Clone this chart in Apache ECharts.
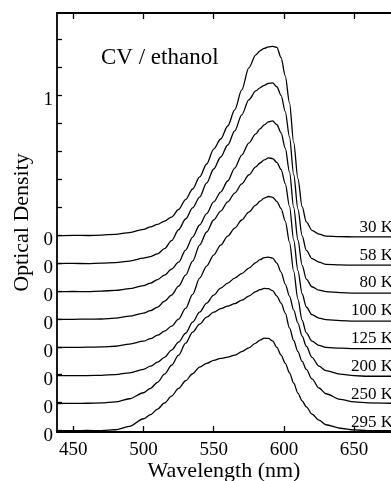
<!DOCTYPE html>
<html>
<head>
<meta charset="utf-8">
<script src="https://cdn.jsdelivr.net/npm/echarts@6/dist/echarts.min.js"></script>
<style>
  html, body { margin: 0; padding: 0; background: #fff; }
  #main { width: 391px; height: 481px; }
</style>
</head>
<body>
<div id="main"></div>
<script>
const font = 'Liberation Serif'

// wavelength grid (nm)
const wavelengths = [438.5, 450, 460, 470, 480, 490, 500, 505, 510, 515, 520, 525, 530, 535, 540, 545, 550, 555, 560, 565, 570, 575, 580, 583, 586, 589, 592, 595, 598, 601, 604, 607, 610, 613, 616, 620, 625, 630, 640, 650, 660, 676.3]

// optical density of each spectrum (before vertical offset)
const od30 = [-0.004, -0.002, -0.003, 0, 0.005, 0.018, 0.041, 0.059, 0.077, 0.100, 0.129, 0.183, 0.254, 0.330, 0.416, 0.509, 0.616, 0.688, 0.781, 0.896, 1.039, 1.197, 1.290, 1.319, 1.337, 1.348, 1.351, 1.344, 1.270, 1.140, 0.946, 0.662, 0.405, 0.203, 0.095, 0.034, 0.007, -0.008, -0.011, -0.013, -0.013, -0.013]
const od58 = [-0.004, -0.003, -0.004, -0.001, 0.003, 0.014, 0.035, 0.046, 0.066, 0.103, 0.160, 0.238, 0.315, 0.394, 0.472, 0.573, 0.673, 0.759, 0.845, 0.946, 1.060, 1.168, 1.232, 1.254, 1.272, 1.286, 1.290, 1.262, 1.200, 1.084, 0.903, 0.632, 0.387, 0.194, 0.090, 0.032, 0.006, -0.010, -0.014, -0.015, -0.015, -0.015]
const od80 = [-0.005, -0.004, -0.005, -0.001, 0.004, 0.016, 0.038, 0.056, 0.081, 0.113, 0.156, 0.206, 0.292, 0.386, 0.472, 0.554, 0.637, 0.708, 0.787, 0.880, 0.973, 1.059, 1.124, 1.160, 1.189, 1.210, 1.217, 1.190, 1.132, 1.022, 0.852, 0.596, 0.365, 0.183, 0.085, 0.030, 0.006, -0.005, -0.012, -0.016, -0.016, -0.016]
const od100 = [-0.004, -0.003, -0.002, -0.001, 0.005, 0.019, 0.041, 0.059, 0.084, 0.127, 0.170, 0.234, 0.313, 0.414, 0.528, 0.622, 0.708, 0.772, 0.837, 0.901, 0.966, 1.030, 1.088, 1.116, 1.138, 1.152, 1.148, 1.120, 1.070, 0.968, 0.806, 0.564, 0.346, 0.180, 0.085, 0.030, 0.006, -0.005, -0.012, -0.016, -0.016, -0.016]
const od125 = [-0.005, -0.004, -0.003, -0.001, 0.004, 0.019, 0.040, 0.058, 0.083, 0.112, 0.148, 0.198, 0.275, 0.375, 0.492, 0.578, 0.657, 0.728, 0.793, 0.850, 0.908, 0.965, 1.015, 1.043, 1.065, 1.076, 1.070, 1.040, 0.990, 0.900, 0.750, 0.540, 0.340, 0.190, 0.100, 0.040, 0.010, -0.004, -0.010, -0.013, -0.013, -0.013]
const od200 = [-0.007, -0.006, -0.006, -0.004, 0.001, 0.014, 0.039, 0.061, 0.090, 0.125, 0.176, 0.233, 0.297, 0.376, 0.448, 0.513, 0.570, 0.620, 0.656, 0.692, 0.724, 0.763, 0.803, 0.824, 0.839, 0.842, 0.835, 0.799, 0.735, 0.649, 0.563, 0.462, 0.369, 0.276, 0.204, 0.125, 0.061, 0.029, 0.004, -0.007, -0.011, -0.011]
const od250 = [-0.006, -0.005, -0.004, -0.002, 0.006, 0.028, 0.071, 0.103, 0.146, 0.204, 0.268, 0.340, 0.426, 0.505, 0.562, 0.612, 0.648, 0.673, 0.691, 0.709, 0.734, 0.763, 0.795, 0.809, 0.818, 0.816, 0.802, 0.763, 0.713, 0.641, 0.535, 0.445, 0.365, 0.295, 0.238, 0.170, 0.105, 0.064, 0.024, 0.006, -0.001, -0.004]
const od295 = [0, 0, 0.001, 0, 0.006, 0.030, 0.085, 0.114, 0.154, 0.198, 0.247, 0.302, 0.357, 0.407, 0.454, 0.482, 0.503, 0.517, 0.526, 0.540, 0.565, 0.593, 0.627, 0.648, 0.662, 0.660, 0.642, 0.596, 0.540, 0.482, 0.414, 0.340, 0.268, 0.213, 0.170, 0.118, 0.075, 0.042, 0.017, 0.005, 0, 0]

const temps = ['30 K', '58 K', '80 K', '100 K', '125 K', '200 K', '250 K', '295 K']
const spectra = [od30, od58, od80, od100, od125, od200, od250, od295]
const offsets = [1.4, 1.2, 1.0, 0.8, 0.6, 0.4, 0.2, 0]

const xTicks = [450, 500, 550, 600, 650]
const yTicks = [0, 0.2, 0.4, 0.6, 0.8, 1.0, 1.2, 1.4, 1.6, 1.8, 2.0, 2.2, 2.4, 2.6, 2.8]
const yLabels = [0, 0.2, 0.4, 0.6, 0.8, 1.0, 1.2, 1.4, 2.4]

const chart = echarts.init(document.getElementById('main'))

const series = spectra.map((od, k) => ({
  name: temps[k],
  type: 'line',
  showSymbol: false,
  smooth: 0.3,
  smoothMonotone: 'x',
  lineStyle: { color: '#000', width: 1.3 },
  data: wavelengths.map((w, i) => [w, od[i] + offsets[k]]),
  markPoint: {
    symbol: 'circle',
    symbolSize: 0,
    silent: true,
    data: [{ coord: [676.3, offsets[k] + 0.057] }],
    label: {
      show: true,
      formatter: temps[k],
      position: 'inside',
      align: 'right',
      offset: [2, 0],
      color: '#000',
      fontFamily: font,
      fontSize: 17,
    },
  },
}))

const axisStyle = { color: '#000', width: 1.8 }
const tickStyle = { color: '#000', width: 1.3 }

chart.setOption({
  animation: false,
  backgroundColor: '#fff',
  title: {
    text: 'CV / ethanol',
    left: 96,
    top: 41,
    textStyle: { fontFamily: font, fontSize: 23, fontWeight: 'normal', color: '#000' },
  },
  grid: { left: 57, right: 0, top: 13, bottom: 49, outerBoundsMode: 'none' },
  xAxis: [
    {
      type: 'value',
      position: 'bottom',
      min: 438.4,
      max: 676.3,
      name: 'Wavelength (nm)',
      nameLocation: 'middle',
      nameGap: 28,
      nameMoveOverlap: false,
      nameTextStyle: { fontFamily: font, fontSize: 22, color: '#000' },
      axisLine: { show: true, onZero: false, lineStyle: axisStyle },
      axisTick: { show: true, inside: true, length: 6, customValues: xTicks, lineStyle: tickStyle },
      axisLabel: { customValues: xTicks, fontFamily: font, fontSize: 19, color: '#000', margin: 9 },
      splitLine: { show: false },
    },
    {
      type: 'value',
      position: 'top',
      min: 438.4,
      max: 676.3,
      axisLine: { show: true, onZero: false, lineStyle: axisStyle },
      axisTick: { show: true, inside: true, length: 6, customValues: xTicks, lineStyle: tickStyle },
      axisLabel: { show: false },
      splitLine: { show: false },
    },
  ],
  yAxis: {
    type: 'value',
    min: -0.01,
    max: 2.99,
    name: 'Optical Density',
    nameLocation: 'middle',
    nameGap: 24,
    nameMoveOverlap: false,
    nameTextStyle: { fontFamily: font, fontSize: 22, color: '#000' },
    axisLine: { show: true, onZero: false, lineStyle: axisStyle },
    axisTick: { show: true, inside: true, length: 5, customValues: yTicks, lineStyle: tickStyle },
    axisLabel: {
      customValues: yLabels,
      formatter: (v) => (v > 2 ? '1' : '0'),
      fontFamily: font,
      fontSize: 19,
      color: '#000',
      margin: 4,
      verticalAlign: 'top',
      lineHeight: 10,
    },
    splitLine: { show: false },
  },
  series: series,
})
</script>
</body>
</html>
